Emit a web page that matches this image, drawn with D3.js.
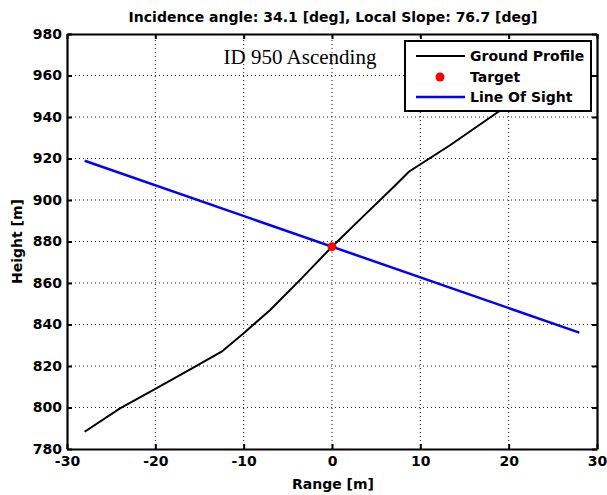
<!DOCTYPE html>
<html>
<head>
<meta charset="utf-8">
<script src="https://cdn.jsdelivr.net/npm/d3@7"></script>
<style>
  html, body { margin: 0; padding: 0; background: #fff; }
  svg { display: block; }
  .lbl { font-family: "DejaVu Sans", "Liberation Sans", sans-serif; font-weight: bold; fill: #000; }
</style>
</head>
<body>
<svg id="chart" width="607" height="495"></svg>
<script>
// Ground profile sampled along range (m) and height (m)
const groundRange  = [-28, -24, -20, -16, -12.5, -10, -7, -3.5, 0, 3.5, 7, 8.7, 13.4, 19, 28];
const groundHeight = [788.3, 799.6, 809, 818.5, 826.9, 835.8, 847, 862, 877.5, 892, 906.4, 913.6, 926.5, 943, 967];

// Line of sight end points
const losRange  = [-28, 28];
const losHeight = [918.9, 836.1];

// Target point
const targetRange  = [0];
const targetHeight = [877.5];

const xTicks = [-30, -20, -10, 0, 10, 20, 30];
const yTicks = [780, 800, 820, 840, 860, 880, 900, 920, 940, 960, 980];

const titleText = "Incidence angle: 34.1 [deg], Local Slope: 76.7 [deg]";
const annotation = "ID 950 Ascending";
const legendLabels = ["Ground Profile", "Target", "Line Of Sight"];

const W = 607, H = 495;
const m = { left: 67, right: 10, top: 34, bottom: 46 };
const pw = W - m.left - m.right, ph = H - m.top - m.bottom;

const svg = d3.select("#chart");
const x = d3.scaleLinear().domain([-30, 30]).range([m.left, m.left + pw]);
const y = d3.scaleLinear().domain([780, 980]).range([m.top + ph, m.top]);
const fmt = d => String(d);

// dotted grid
const grid = svg.append("g");
grid.selectAll("line.gx").data(xTicks.slice(1, -1)).join("line")
  .attr("x1", d => x(d)).attr("x2", d => x(d))
  .attr("y1", y(780)).attr("y2", y(980))
  .attr("stroke", "#222").attr("stroke-width", 1).attr("stroke-dasharray", "1,3");
grid.selectAll("line.gy").data(yTicks.slice(1, -1)).join("line")
  .attr("x1", x(-30)).attr("x2", x(30))
  .attr("y1", d => y(d)).attr("y2", d => y(d))
  .attr("stroke", "#222").attr("stroke-width", 1).attr("stroke-dasharray", "1,3");

// axes: labels on bottom/left, inward ticks on all sides
const fs = 14;
const axB = svg.append("g").attr("transform", `translate(0,${y(780)})`)
  .call(d3.axisBottom(x).tickValues(xTicks).tickSizeInner(-5).tickSizeOuter(0).tickPadding(7).tickFormat(fmt));
const axT = svg.append("g").attr("transform", `translate(0,${y(980)})`)
  .call(d3.axisTop(x).tickValues(xTicks).tickSizeInner(-5).tickSizeOuter(0).tickFormat(""));
const axL = svg.append("g").attr("transform", `translate(${x(-30)},0)`)
  .call(d3.axisLeft(y).tickValues(yTicks).tickSizeInner(-5).tickSizeOuter(0).tickPadding(5).tickFormat(fmt));
const axR = svg.append("g").attr("transform", `translate(${x(30)},0)`)
  .call(d3.axisRight(y).tickValues(yTicks).tickSizeInner(-5).tickSizeOuter(0).tickFormat(""));
[axB, axT, axL, axR].forEach(g => {
  g.select(".domain").attr("stroke", "#000").attr("stroke-width", 2.2);
  g.selectAll(".tick line").attr("stroke", "#000").attr("stroke-width", 2);
  g.selectAll(".tick text").attr("class", "lbl").attr("font-size", fs).attr("fill", "#000");
});

// ground profile
const line = d3.line().x(d => x(d[0])).y(d => y(d[1]));
svg.append("path")
  .datum(d3.zip(groundRange, groundHeight))
  .attr("d", line).attr("fill", "none").attr("stroke", "#000").attr("stroke-width", 2);

// line of sight
svg.append("path")
  .datum(d3.zip(losRange, losHeight))
  .attr("d", line).attr("fill", "none").attr("stroke", "#0000ff").attr("stroke-width", 2.5);

// target
svg.selectAll("circle.target").data(d3.zip(targetRange, targetHeight)).join("circle")
  .attr("cx", d => x(d[0])).attr("cy", d => y(d[1])).attr("r", 4.5).attr("fill", "#ff0000");

// annotation
svg.append("text").attr("x", 300).attr("y", 64).attr("text-anchor", "middle")
  .attr("font-family", "'Liberation Serif', 'Times New Roman', serif").attr("font-size", 21)
  .text(annotation);

// legend
const lg = svg.append("g");
lg.append("rect").attr("x", 405).attr("y", 41).attr("width", 186).attr("height", 70)
  .attr("fill", "#fff").attr("stroke", "#000").attr("stroke-width", 2);
const rowsY = [56, 77, 97];
lg.append("line").attr("x1", 416).attr("x2", 465).attr("y1", rowsY[0]).attr("y2", rowsY[0])
  .attr("stroke", "#000").attr("stroke-width", 2);
lg.append("circle").attr("cx", 440).attr("cy", rowsY[1]).attr("r", 4.5).attr("fill", "#ff0000");
lg.append("line").attr("x1", 416).attr("x2", 465).attr("y1", rowsY[2]).attr("y2", rowsY[2])
  .attr("stroke", "#0000ff").attr("stroke-width", 2.5);
lg.selectAll("text").data(legendLabels).join("text")
  .attr("class", "lbl").attr("font-size", fs)
  .attr("x", 470).attr("y", (d, i) => rowsY[i]).attr("dy", "0.35em").text(d => d);

// title and axis titles
svg.append("text").attr("class", "lbl").attr("font-size", 14)
  .attr("x", 333).attr("y", 17).attr("dy", "0.35em").attr("text-anchor", "middle").text(titleText);
svg.append("text").attr("class", "lbl").attr("font-size", fs)
  .attr("x", 333).attr("y", 484).attr("dy", "0.35em").attr("text-anchor", "middle").text("Range [m]");
svg.append("text").attr("class", "lbl").attr("font-size", fs)
  .attr("transform", `translate(17,${y(880)}) rotate(-90)`).attr("dy", "0.35em")
  .attr("text-anchor", "middle").text("Height [m]");
</script>
</body>
</html>
